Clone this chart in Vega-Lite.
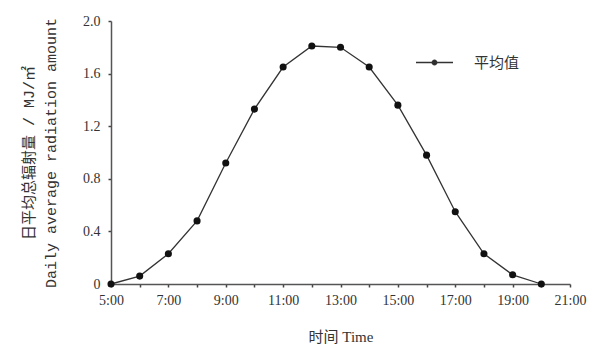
{
  "$schema": "https://vega.github.io/schema/vega-lite/v6.json",
  "width": 459,
  "height": 263,
  "autosize": "none",
  "padding": {"left": 111, "top": 21, "right": 33, "bottom": 71},
  "background": "white",
  "config": {
    "view": {"stroke": null},
    "font": "Liberation Serif, Noto Sans CJK SC",
    "axis": {
      "grid": false,
      "domainColor": "#555",
      "domainWidth": 1.5,
      "labelColor": "#333",
      "titleColor": "#333",
      "labelFont": "Liberation Serif, Noto Sans CJK SC",
      "titleFont": "Liberation Serif, Noto Sans CJK SC",
      "labelFontSize": 14,
      "titleFontSize": 14,
      "titleFontWeight": "normal"
    }
  },
  "data": {
    "values": [
      {"hour": 5, "value": 0.0, "series": "平均值"},
      {"hour": 6, "value": 0.06, "series": "平均值"},
      {"hour": 7, "value": 0.23, "series": "平均值"},
      {"hour": 8, "value": 0.48, "series": "平均值"},
      {"hour": 9, "value": 0.92, "series": "平均值"},
      {"hour": 10, "value": 1.33, "series": "平均值"},
      {"hour": 11, "value": 1.65, "series": "平均值"},
      {"hour": 12, "value": 1.81, "series": "平均值"},
      {"hour": 13, "value": 1.80, "series": "平均值"},
      {"hour": 14, "value": 1.65, "series": "平均值"},
      {"hour": 15, "value": 1.36, "series": "平均值"},
      {"hour": 16, "value": 0.98, "series": "平均值"},
      {"hour": 17, "value": 0.55, "series": "平均值"},
      {"hour": 18, "value": 0.23, "series": "平均值"},
      {"hour": 19, "value": 0.07, "series": "平均值"},
      {"hour": 20, "value": 0.0, "series": "平均值"}
    ]
  },
  "encoding": {
    "x": {
      "field": "hour",
      "type": "quantitative",
      "scale": {"domain": [5, 21], "nice": false, "zero": false},
      "axis": {
        "title": "时间 Time",
        "values": [5, 6, 7, 8, 9, 10, 11, 12, 13, 14, 15, 16, 17, 18, 19, 20, 21],
        "labelExpr": "datum.value % 2 == 1 ? datum.value + ':00' : ''",
        "ticks": true,
        "tickSize": 3,
        "tickColor": "#444444",
        "tickWidth": 1.5,
        "labelPadding": 6,
        "labelFlush": false,
        "labelOverlap": false,
        "titlePadding": 22,
        "titleFontSize": 15
      }
    },
    "y": {
      "field": "value",
      "type": "quantitative",
      "scale": {"domain": [0, 2], "nice": false},
      "axis": {
        "title": ["日平均总辐射量 / MJ/㎡", "Daily average radiation amount"],
        "titleFont": "Liberation Mono, Noto Sans CJK SC",
        "titleFontSize": 15,
        "values": [0, 0.4, 0.8, 1.2, 1.6, 2.0],
        "labelExpr": "datum.value == 0 ? '0' : format(datum.value, '.1f')",
        "ticks": true,
        "tickSize": 3,
        "tickColor": "#444444",
        "tickWidth": 1.5,
        "labelPadding": 8,
        "labelFlush": false,
        "titlePadding": 24,
        "titleLineHeight": 22
      }
    }
  },
  "layer": [
    {
      "mark": {"type": "line", "strokeWidth": 1.3},
      "encoding": {
        "color": {
          "field": "series",
          "type": "nominal",
          "scale": {"range": ["#333333"]},
          "legend": {
            "title": null,
            "orient": "none",
            "legendX": 304,
            "legendY": 22,
            "symbolType": "M-1,0H1M0.12,0A0.12,0.12 0 1,1 -0.12,0A0.12,0.12 0 1,1 0.12,0Z",
            "symbolSize": 1369,
            "symbolStrokeWidth": 1.5,
            "symbolFillColor": "#222222",
            "labelFontSize": 15,
            "labelColor": "#333",
            "labelOffset": 20,
            "labelFont": "Noto Sans CJK SC"
          }
        }
      }
    },
    {
      "mark": {"type": "point", "filled": true, "color": "#111111", "size": 50, "opacity": 1}
    }
  ]
}
